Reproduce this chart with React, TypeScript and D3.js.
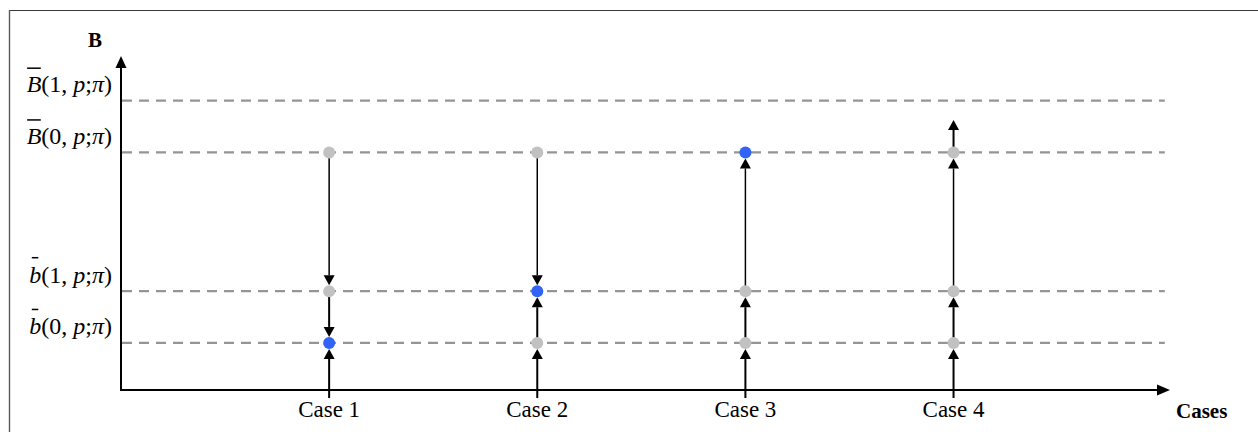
import React, { useEffect, useRef } from "react";
import * as d3 from "d3";

const W = 1258;
const H = 432;

const cases = ["Case 1", "Case 2", "Case 3", "Case 4"];
const levelKeys = ["b0", "b1", "B0", "B1"];
const levelValues = [1, 2.1, 5.05, 6.15];
const levelSymbols = ["b", "b", "B", "B"];
const levelArgs = ["0", "1", "0", "1"];
const axisStartValue = -0.17;
const beyondTopValue = 5.74;

// arrows for each case: [from, to]
const case1Arrows = [["B0", "b1"], ["b1", "b0"], ["axis", "b0"]];
const case2Arrows = [["B0", "b1"], ["axis", "b0"], ["b0", "b1"]];
const case3Arrows = [["axis", "b0"], ["b0", "b1"], ["b1", "B0"]];
const case4Arrows = [["axis", "b0"], ["b0", "b1"], ["b1", "B0"], ["B0", "top"]];
const caseArrows = [case1Arrows, case2Arrows, case3Arrows, case4Arrows];

const caseDots = [
  ["B0", "b1", "b0"],
  ["B0", "b1", "b0"],
  ["b0", "b1", "B0"],
  ["b0", "b1", "B0"],
];
const caseChosen = ["b0", "b1", "B0", ""];

const FONT = "'Liberation Serif', 'Times New Roman', serif";

function valueOf(key: string): number {
  if (key === "axis") return axisStartValue;
  if (key === "top") return beyondTopValue;
  return levelValues[levelKeys.indexOf(key)];
}

export default function App() {
  const ref = useRef<SVGSVGElement | null>(null);

  useEffect(() => {
    const svg = d3.select(ref.current);
    svg.selectAll("*").remove();

    const x = d3.scaleLinear().domain([0, 5.04]).range([121, 1170]);
    const y = d3.scaleLinear().domain([0, 7.1]).range([390, 56]);
    const r = 6;

    // frame
    svg.append("line").attr("x1", 9).attr("x2", W).attr("y1", 10.5).attr("y2", 10.5)
      .attr("stroke", "#3a3a3a").attr("stroke-width", 1.2);
    svg.append("line").attr("x1", 9.5).attr("x2", 9.5).attr("y1", 10).attr("y2", H)
      .attr("stroke", "#5a5a5a").attr("stroke-width", 1.4);

    // dashed reference levels
    svg.append("g").selectAll("line").data(levelValues).join("line")
      .attr("x1", x(0) + 1).attr("x2", x(5.015))
      .attr("y1", (d) => y(d)).attr("y2", (d) => y(d))
      .attr("stroke", "#959595").attr("stroke-width", 2.2).attr("stroke-dasharray", "10,7");

    // axes
    const axisG = svg.append("g");
    axisG.append("line").attr("x1", x(0)).attr("x2", x(0)).attr("y1", y(0) + 1).attr("y2", y(7.1) + 10)
      .attr("stroke", "#000").attr("stroke-width", 2);
    axisG.append("path")
      .attr("d", `M${x(0)},${y(7.1)} L${x(0) - 5.5},${y(7.1) + 12} L${x(0) + 5.5},${y(7.1) + 12} Z`)
      .attr("fill", "#000");
    axisG.append("line").attr("x1", x(0) - 1).attr("x2", x(5.04) - 12).attr("y1", y(0)).attr("y2", y(0))
      .attr("stroke", "#000").attr("stroke-width", 2);
    axisG.append("path")
      .attr("d", `M${x(5.04)},${y(0)} L${x(5.04) - 13},${y(0) - 5.5} L${x(5.04) - 13},${y(0) + 5.5} Z`)
      .attr("fill", "#000");

    // axis titles
    svg.append("text").attr("x", 95).attr("y", 47).attr("text-anchor", "middle")
      .attr("font-family", FONT).attr("font-weight", "bold").attr("font-size", 21).text("B");
    svg.append("text").attr("x", 1176).attr("y", 418)
      .attr("font-family", FONT).attr("font-weight", "bold").attr("font-size", 21).text("Cases");

    // level labels
    levelValues.forEach((v, i) => {
      const base = y(v) - 8.5;
      const t = svg.append("text").attr("x", 112).attr("y", base).attr("text-anchor", "end")
        .attr("font-family", FONT).attr("font-size", 24).attr("fill", "#000");
      t.append("tspan").attr("font-style", "italic").text(levelSymbols[i]);
      t.append("tspan").text(`(${levelArgs[i]},`);
      t.append("tspan").text(" ");
      t.append("tspan").attr("font-style", "italic").text("p");
      t.append("tspan").text(";");
      t.append("tspan").attr("font-style", "italic").text("π");
      t.append("tspan").text(")");
      const node = t.node() as SVGTextElement;
      let ext = { x: 112 - 84, width: 14 };
      try {
        const e = node.getExtentOfChar(0);
        ext = { x: e.x, width: e.width };
      } catch (err) {
        /* ignore */
      }
      const upper = levelSymbols[i] === "B";
      const ox1 = upper ? ext.x + 0.5 : ext.x + 2.5;
      const ox2 = upper ? ext.x + ext.width - 0.5 : ext.x + 9;
      const oy = upper ? base - 24 : base - 25;
      svg.append("line").attr("x1", ox1).attr("x2", ox2).attr("y1", oy).attr("y2", oy)
        .attr("stroke", "#000").attr("stroke-width", 1.5);
    });

    // case arrows
    const arrowG = svg.append("g");
    caseArrows.forEach((arrows, ci) => {
      const cx = x(ci + 1);
      arrows.forEach(([from, to]) => {
        const fv = valueOf(from);
        const tv = valueOf(to);
        const up = tv > fv;
        const isDot = levelKeys.includes(to);
        const y0 = y(fv);
        const tipY = isDot ? (up ? y(tv) + r : y(tv) - r) : y(tv);
        const headLen = 10;
        const baseY = up ? tipY + headLen : tipY - headLen;
        const sw = Math.abs(tv - fv) > 2 ? 1.5 : 2;
        arrowG.append("line").attr("x1", cx).attr("x2", cx).attr("y1", y0).attr("y2", baseY)
          .attr("stroke", "#000").attr("stroke-width", sw);
        arrowG.append("path")
          .attr("d", `M${cx},${tipY} L${cx - 5.5},${baseY} L${cx + 5.5},${baseY} Z`)
          .attr("fill", "#000");
      });
    });

    // dots
    const dotG = svg.append("g");
    caseDots.forEach((dots, ci) => {
      dotG.selectAll(null).data(dots).join("circle")
        .attr("cx", x(ci + 1))
        .attr("cy", (d) => y(valueOf(d)))
        .attr("r", r)
        .attr("fill", (d) => (d === caseChosen[ci] ? "#3163f5" : "#c1c1c1"));
    });

    // case labels
    svg.append("g").selectAll("text").data(cases).join("text")
      .attr("x", (_d, i) => x(i + 1)).attr("y", 417).attr("text-anchor", "middle")
      .attr("font-family", FONT).attr("font-size", 23).attr("fill", "#000")
      .text((d) => d);
  }, []);

  return (
    <svg
      ref={ref}
      width={W}
      height={H}
      style={{ position: "absolute", left: 0, top: 0, background: "#fff" }}
    />
  );
}
